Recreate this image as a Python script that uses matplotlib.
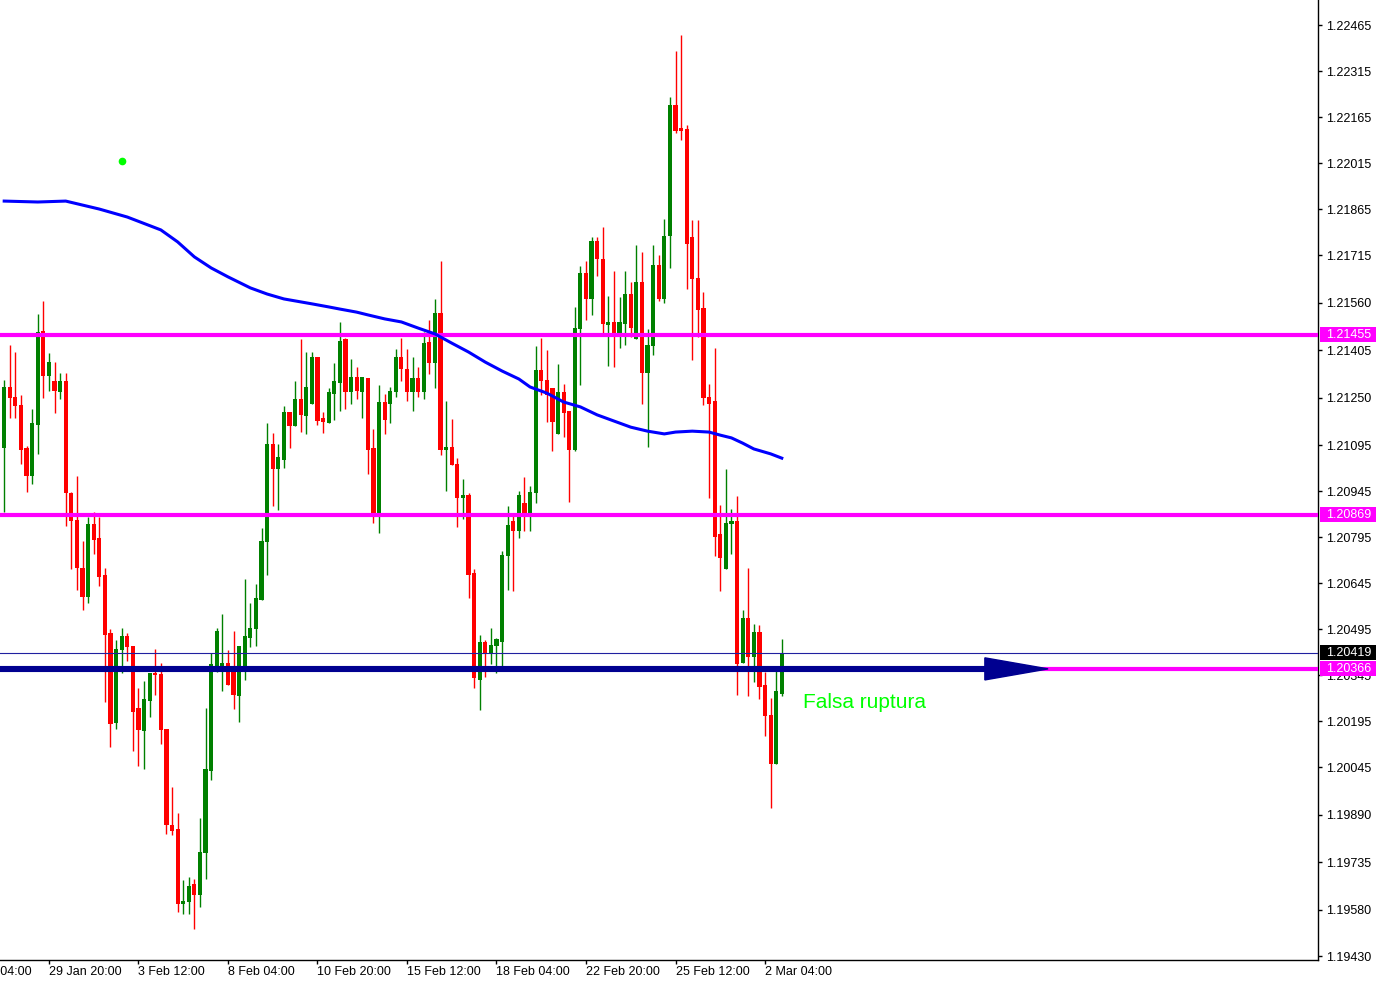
import matplotlib.pyplot as plt
from matplotlib.patches import Polygon, Rectangle
from matplotlib.transforms import blended_transform_factory
import numpy as np

plt.rcParams['font.family'] = ['Liberation Sans', 'DejaVu Sans']

# H4 candles
opens = [
    1.21086, 1.21285, 1.21252, 1.21226, 1.21086, 1.20995, 1.21161, 1.21467, 1.21321, 1.21304,
    1.21269, 1.21304, 1.20939, 1.20851, 1.20695, 1.20600, 1.20838, 1.20793, 1.20672, 1.20483,
    1.20190, 1.20428, 1.20473, 1.20441, 1.20238, 1.20163, 1.20261, 1.20353, 1.20349, 1.20170,
    1.19857, 1.19844, 1.19600, 1.19606, 1.19665, 1.19629, 1.19766, 1.20033, 1.20375, 1.20356,
    1.20385, 1.20359, 1.20278, 1.20372, 1.20467, 1.20496, 1.20591, 1.20780, 1.21099, 1.21018,
    1.21047, 1.21203, 1.21158, 1.21246, 1.21190, 1.21230, 1.21383, 1.21184, 1.21168, 1.21262,
    1.21298, 1.21441, 1.21269, 1.21317, 1.21269, 1.21314, 1.21086, 1.20871, 1.21236, 1.21230,
    1.21269, 1.21383, 1.21344, 1.21269, 1.21314, 1.21269, 1.21432, 1.21363, 1.21526, 1.21080,
    1.21089, 1.21034, 1.20923, 1.20933, 1.20679, 1.20330, 1.20454, 1.20415, 1.20441, 1.20454,
    1.20734, 1.20848, 1.20815, 1.20907, 1.20874, 1.20939, 1.21340, 1.21308, 1.21282, 1.21132,
    1.21269, 1.21207, 1.21080, 1.21474, 1.21657, 1.21572, 1.21761, 1.21702, 1.21487, 1.21497,
    1.21458, 1.21490, 1.21588, 1.21441, 1.21627, 1.21331, 1.21419, 1.21683, 1.21572, 1.21778,
    1.22204, 1.22129, 1.22126, 1.21774, 1.21640, 1.21542, 1.21252, 1.21239, 1.20806, 1.20692,
    1.20838, 1.20848, 1.20385, 1.20532, 1.20405, 1.20486, 1.20313, 1.20216, 1.20056, 1.20284,
]
highs = [
    1.21308, 1.21422, 1.21399, 1.21259, 1.21093, 1.21213, 1.21523, 1.21565, 1.21396, 1.21366,
    1.21331, 1.21331, 1.20943, 1.20995, 1.20783, 1.20861, 1.20877, 1.20861, 1.20695, 1.20496,
    1.20460, 1.20499, 1.20483, 1.20441, 1.20304, 1.20326, 1.20353, 1.20431, 1.20385, 1.20170,
    1.19981, 1.19896, 1.19678, 1.19688, 1.19681, 1.19880, 1.20238, 1.20418, 1.20499, 1.20545,
    1.20428, 1.20489, 1.20441, 1.20659, 1.20581, 1.20643, 1.20825, 1.21168, 1.21135, 1.21099,
    1.21223, 1.21203, 1.21304, 1.21441, 1.21399, 1.21399, 1.21383, 1.21203, 1.21282, 1.21363,
    1.21497, 1.21445, 1.21376, 1.21350, 1.21317, 1.21314, 1.21148, 1.21291, 1.21262, 1.21285,
    1.21409, 1.21445, 1.21409, 1.21383, 1.21350, 1.21464, 1.21503, 1.21572, 1.21696, 1.21239,
    1.21181, 1.21053, 1.20985, 1.20939, 1.20692, 1.20476, 1.20460, 1.20499, 1.20467, 1.20750,
    1.20897, 1.20868, 1.20946, 1.20992, 1.20962, 1.21419, 1.21445, 1.21406, 1.21282, 1.21360,
    1.21295, 1.21207, 1.21546, 1.21679, 1.21696, 1.21774, 1.21774, 1.21807, 1.21582, 1.21663,
    1.21578, 1.21663, 1.21627, 1.21748, 1.21725, 1.21474, 1.21748, 1.21715, 1.21833, 1.22230,
    1.22380, 1.22432, 1.22139, 1.21829, 1.21829, 1.21595, 1.21295, 1.21412, 1.20900, 1.21018,
    1.20887, 1.20930, 1.20558, 1.20695, 1.20512, 1.20509, 1.20356, 1.20271, 1.20372, 1.20463,
]
lows = [
    1.20877, 1.21184, 1.21184, 1.21034, 1.20943, 1.20969, 1.21067, 1.21249, 1.21272, 1.21200,
    1.21246, 1.20832, 1.20692, 1.20623, 1.20558, 1.20581, 1.20741, 1.20636, 1.20258, 1.20111,
    1.20170, 1.20353, 1.20392, 1.20098, 1.20049, 1.20040, 1.20209, 1.20281, 1.20121, 1.19828,
    1.19824, 1.19573, 1.19567, 1.19567, 1.19518, 1.19590, 1.19681, 1.20004, 1.20356, 1.20294,
    1.20313, 1.20235, 1.20193, 1.20330, 1.20437, 1.20441, 1.20591, 1.20672, 1.20897, 1.20884,
    1.21021, 1.21086, 1.21158, 1.21138, 1.21132, 1.21230, 1.21161, 1.21135, 1.21168, 1.21177,
    1.21207, 1.21213, 1.21230, 1.21246, 1.21184, 1.21001, 1.20842, 1.20809, 1.21132, 1.21168,
    1.21252, 1.21304, 1.21239, 1.21207, 1.21252, 1.21246, 1.21327, 1.21282, 1.21063, 1.20946,
    1.21031, 1.20828, 1.20855, 1.20597, 1.20304, 1.20232, 1.20340, 1.20382, 1.20353, 1.20372,
    1.20623, 1.20620, 1.20793, 1.20815, 1.20815, 1.20907, 1.21259, 1.21171, 1.21076, 1.21132,
    1.21122, 1.20910, 1.21076, 1.21291, 1.21503, 1.21520, 1.21647, 1.21458, 1.21353, 1.21350,
    1.21412, 1.21422, 1.21448, 1.21441, 1.21230, 1.21089, 1.21389, 1.21565, 1.21559, 1.21673,
    1.22113, 1.22090, 1.21604, 1.21373, 1.21448, 1.21226, 1.20923, 1.20734, 1.20620, 1.20692,
    1.20741, 1.20281, 1.20385, 1.20278, 1.20323, 1.20268, 1.20147, 1.19912, 1.20056, 1.20278,
]
closes = [
    1.21285, 1.21249, 1.21223, 1.21080, 1.20995, 1.21168, 1.21464, 1.21321, 1.21366, 1.21272,
    1.21304, 1.20939, 1.20848, 1.20695, 1.20600, 1.20838, 1.20786, 1.20666, 1.20476, 1.20186,
    1.20431, 1.20473, 1.20437, 1.20225, 1.20167, 1.20268, 1.20353, 1.20346, 1.20167, 1.19857,
    1.19837, 1.19600, 1.19609, 1.19658, 1.19629, 1.19769, 1.20040, 1.20382, 1.20489, 1.20385,
    1.20313, 1.20281, 1.20441, 1.20473, 1.20499, 1.20597, 1.20783, 1.21099, 1.21018, 1.21057,
    1.21203, 1.21158, 1.21246, 1.21194, 1.21285, 1.21383, 1.21174, 1.21171, 1.21269, 1.21304,
    1.21435, 1.21269, 1.21317, 1.21272, 1.21317, 1.21080, 1.20871, 1.21236, 1.21177, 1.21272,
    1.21383, 1.21344, 1.21269, 1.21314, 1.21269, 1.21428, 1.21363, 1.21526, 1.21080, 1.21089,
    1.21031, 1.20923, 1.20933, 1.20672, 1.20336, 1.20454, 1.20415, 1.20444, 1.20463, 1.20737,
    1.20835, 1.20815, 1.20933, 1.20868, 1.20943, 1.21340, 1.21304, 1.21259, 1.21171, 1.21269,
    1.21200, 1.21080, 1.21477, 1.21657, 1.21572, 1.21761, 1.21702, 1.21490, 1.21497, 1.21458,
    1.21497, 1.21588, 1.21477, 1.21627, 1.21331, 1.21422, 1.21683, 1.21572, 1.21778, 1.22204,
    1.22120, 1.22120, 1.21751, 1.21637, 1.21536, 1.21249, 1.21230, 1.20796, 1.20727, 1.20842,
    1.20848, 1.20382, 1.20532, 1.20405, 1.20486, 1.20307, 1.20212, 1.20056, 1.20294, 1.20419,
]

# moving average, sampled along the blue line
ma_bars = [0, 6, 11, 17, 22, 28, 31, 34, 37, 40, 44, 47, 50, 55, 58, 60, 63, 65, 68, 71,
           74, 77, 80, 83, 86, 89, 92, 94, 97, 100, 103, 106, 109, 112, 115, 118, 120, 123,
           126, 128, 130, 132, 134, 137, 139]
ma_values = [1.21891, 1.21888, 1.21891, 1.21865, 1.21839, 1.21797, 1.21758, 1.21709, 1.21673,
             1.21644, 1.21608, 1.21588, 1.21572, 1.21556, 1.21546, 1.21539, 1.21529, 1.21520,
             1.21507, 1.21497, 1.21477, 1.21458, 1.21428, 1.21399, 1.21366, 1.21337, 1.21311,
             1.21285, 1.21265, 1.21236, 1.21220, 1.21194, 1.21174, 1.21154, 1.21141, 1.21132,
             1.21138, 1.21141, 1.21138, 1.21128, 1.21119, 1.21102, 1.21083, 1.21067, 1.21053]

levels = [1.21455, 1.20869, 1.20366]
bid = 1.20419
signal_bar, signal_price = 21, 1.22022
note = 'Falsa ruptura'
note_bar, note_price = 142.8, 1.20255
arrow_price = 1.20366
arrow_head_bar, arrow_tip_bar = 175.3, 186.6

price_ticks = [1.22465, 1.22315, 1.22165, 1.22015, 1.21865, 1.21715, 1.21560, 1.21405,
               1.21250, 1.21095, 1.20945, 1.20795, 1.20645, 1.20495, 1.20345, 1.20195,
               1.20045, 1.19890, 1.19735, 1.19580, 1.19430]
date_ticks = [8, 24, 40, 56, 72, 88, 104, 120, 136]
date_labels = ['29 Jan 20:00', '3 Feb 12:00', '8 Feb 04:00', '10 Feb 20:00', '15 Feb 12:00',
               '18 Feb 04:00', '22 Feb 20:00', '25 Feb 12:00', '2 Mar 04:00']
first_tick, first_label = -8, '27 Jan 04:00'

fig = plt.figure(figsize=(13.83, 9.88), dpi=100)
ax = fig.add_axes([0, 28 / 988, 1318 / 1383, 960 / 988])

# candles
x = np.arange(len(opens))
o = np.array(opens)
c = np.array(closes)
colors = np.where(c > o, '#008000', '#ff0000')
ax.vlines(x, lows, highs, colors=colors, lw=1.0, zorder=2)
body = np.maximum(np.abs(c - o), 0.00003)
ax.bar(x, body, bottom=np.minimum(o, c), width=0.75, color=colors, linewidth=0, zorder=3)

# levels and bid line
for lv in levels:
    ax.axhline(lv, color='#ff00ff', lw=3, zorder=4)
ax.axhline(bid, color='#2020a0', lw=0.8, zorder=4)

# moving average
ax.plot(ma_bars, ma_values, color='#0000ff', lw=2.2, zorder=5)

# arrow
ax.plot([-1, arrow_head_bar], [arrow_price, arrow_price], color='#000090', lw=4.4,
        solid_capstyle='butt', zorder=6)
half = 0.00036
ax.add_patch(Polygon([(arrow_head_bar, arrow_price + half), (arrow_head_bar, arrow_price - half),
                      (arrow_tip_bar, arrow_price)], closed=True, color='#000090', zorder=6))

ax.plot(signal_bar, signal_price, 'o', color='#00ff00', ms=4.5, zorder=6)
ax.text(note_bar, note_price, note, color='#00ff00', fontsize=15, ha='left', va='center', zorder=7)

ax.set_xlim(-0.75, 234.85)
ax.set_ylim(1.19417, 1.225465)

# axes look
for s in ['left', 'top']:
    ax.spines[s].set_visible(False)
for s in ['right', 'bottom']:
    ax.spines[s].set_color('black')
    ax.spines[s].set_linewidth(1)
ax.yaxis.tick_right()
ax.set_yticks(price_ticks, ['%.5f' % p for p in price_ticks])
ax.set_xticks(date_ticks, date_labels, ha='left')
ax.tick_params(axis='y', direction='out', length=3, width=1, pad=2.7, labelsize=9)
ax.tick_params(axis='x', direction='out', length=3, width=1, pad=1.5, labelsize=9)
ax.annotate(first_label, xy=(first_tick, 0), xycoords=('data', 'axes fraction'),
            xytext=(0, -4.5), textcoords='offset points', ha='left', va='top',
            fontsize=9, annotation_clip=False)

# price boxes on the right scale
trans = blended_transform_factory(ax.transAxes, ax.transData)
box_h = 0.000245
for val, fc in [(levels[0], '#ff00ff'), (levels[1], '#ff00ff'), (bid, '#000000'), (levels[2], '#ff00ff')]:
    ax.add_patch(Rectangle((1.0015, val - box_h), 56 / 1318, 2 * box_h, transform=trans,
                           facecolor=fc, edgecolor='none', clip_on=False, zorder=10))
    ax.text(1326 / 1318, val, '%.5f' % val, transform=trans, ha='left', va='center',
            fontsize=9, color='white', clip_on=False, zorder=11)

plt.savefig('out.png', dpi=100)
